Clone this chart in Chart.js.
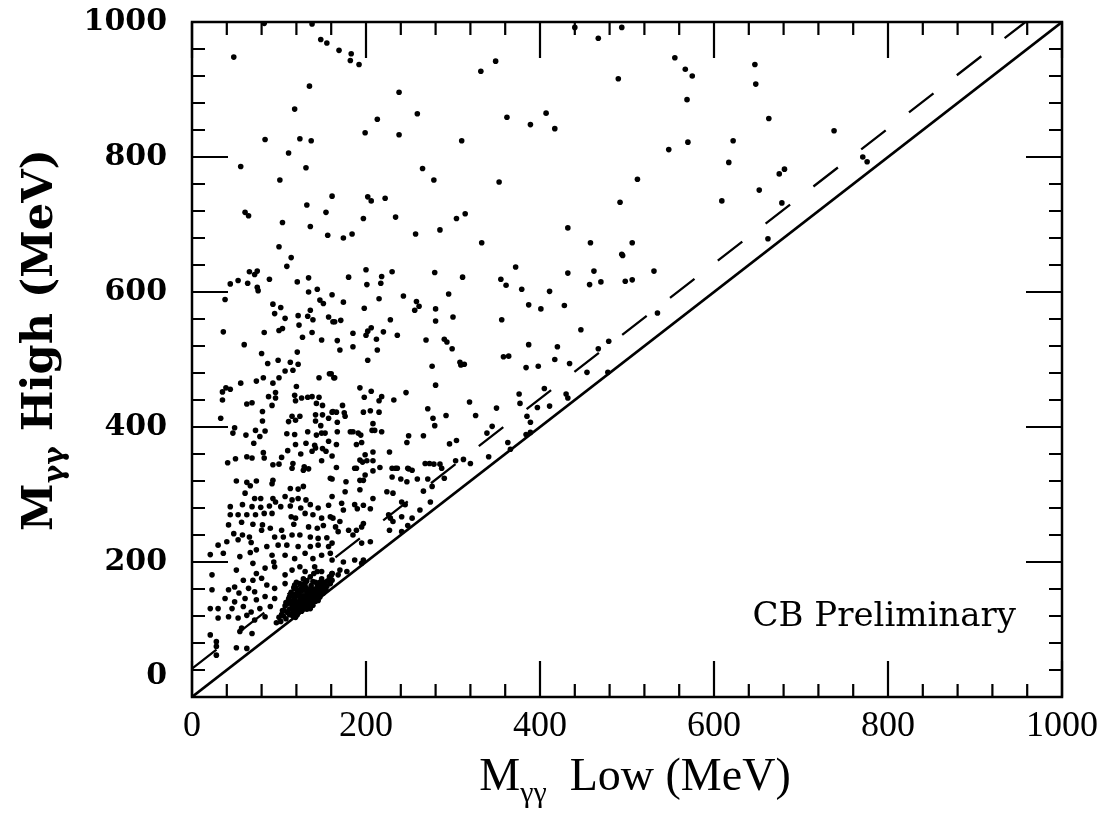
<!DOCTYPE html>
<html>
<head>
<meta charset="utf-8">
<script src="https://cdn.jsdelivr.net/npm/chart.js@4.4.1/dist/chart.umd.min.js"></script>
<style>
  html, body { margin: 0; padding: 0; background: #fff; }
  #c { display: block; }
</style>
</head>
<body>
<canvas id="c" width="1107" height="821"></canvas>
<script>
// ---------- DATA (MeV): [M_low, M_high] ----------
const eventsUpper = [
  [138,997],[83,998],[148,974],[155,969],[169,958],[183,953],[182,943],[192,937],[48,948],[135,905],
  [238,896],[118,871],[213,856],[259,864],[199,836],[238,833],[84,826],[124,827],[137,824],[111,806],
  [56,786],[131,784],[265,783],[101,766],[161,742],[202,741],[206,735],[222,739],[132,729],[61,718],
  [65,713],[154,718],[197,709],[234,711],[104,703],[136,697],[156,684],[174,680],[184,686],[257,686],
  [100,667],
  [440,992],[467,976],[494,992],[349,942],[332,927],[555,947],[567,930],[575,920],[490,916],[569,885],
  [362,859],[407,865],[389,848],[417,842],[310,824],[570,822],[548,811],[278,766],[353,763],[512,767],
  [492,733],[314,716],[304,709],[285,692],[432,695],[333,673],[458,673],[506,673],[494,656],
  [647,937],[648,908],[663,857],[738,839],[622,824],[617,792],[681,782],[675,775],[771,800],[776,793],
  [652,751],[609,735],[678,732],[662,679]
];
const eventsMiddle = [
  [495,654],[372,637],[355,619],[361,610],[432,628],[462,631],[531,631],[457,611],[470,615],[498,616],
  [506,618],[379,604],[411,601],[387,581],[401,575],[428,580],[356,559],[535,569],[447,544],[479,527],
  [387,522],[420,519],[467,516],[358,504],[364,505],[417,500],[434,494],[384,488],[398,490],[454,481],
  [478,481],[405,457],[376,449],[430,449],[432,443],[377,435],[397,429],[411,431],[350,428],[385,416],
  [389,407],[384,389],[389,392],[363,377],[366,367],
  [180,622],[200,633],[218,623],[217,613],[230,630],[201,611],[279,629],[311,622],[174,585],[215,590],
  [243,594],[295,597],[198,576],[258,586],[261,579],[256,573],[280,575],[164,556],[171,558],[228,559],
  [280,557],[300,563],[185,539],[200,536],[202,542],[206,547],[220,541],[236,536],[212,530],[167,528],
  [185,519],[213,514],[170,514],[269,529],[290,530],[293,526],[299,516],[202,499],[276,490],[308,496],
  [309,492],[313,493],[160,479],[164,473],[280,462],[193,458],[206,453],[198,444],[218,445],[215,439],
  [232,440],[246,451],[173,432],[162,423],[166,422],[175,421],[176,416],[197,422],[205,424],[215,422],
  [167,407],[208,405],[271,427],[277,413],[279,402],[292,417],[319,437],[326,417],[345,401],[339,391],
  [167,393],[182,393],[185,393],[191,391],[194,388],[207,395],[210,395],[218,393],[249,387],[266,387],
  [247,377],[166,374],[189,374],[195,377],[304,380],[296,375],[227,363],[199,359],[208,363],[193,351],
  [196,348],[201,350],[208,350],[166,340],[187,339],[216,340],[234,339],[248,339],[268,346],[273,346],
  [278,345],[285,345],[303,350],[312,352],[320,346],[341,356]
];
const eventsLeft = [
  [114,651],[109,638],[66,630],[75,631],[72,626],[44,612],[53,617],[64,613],[89,619],[75,607],
  [76,602],[121,615],[134,621],[134,600],[144,604],[161,596],[38,589],[147,588],[151,583],[93,582],
  [102,577],[95,568],[136,573],[107,561],[122,565],[133,564],[139,559],[157,563],[162,556],[123,551],
  [104,546],[100,543],[36,541],[83,540],[138,540],[127,533],[149,529],[60,522],[121,511],[80,509],
  [99,499],[113,496],[122,493],[87,494],[107,483],[116,484],[158,479],[146,473],[163,473],[100,473],
  [82,473],[74,468],[56,465],[93,465],[39,458],[44,456],[35,452],[120,460],[96,451],[88,445],
  [96,443],[118,447],[126,443],[133,444],[138,445],[146,444],[119,439],[35,440],[63,434],[69,436],
  [92,432],[143,435],[150,432],[81,423],[33,413],[115,416],[124,416],[142,418],[150,418],[161,422],
  [81,409],[111,408],[119,410],[142,409],[157,413],[148,402],[49,399],[47,391],[62,388],[73,395],
  [84,394],[78,386],[109,390],[118,389],[133,393],[143,388],[149,391],[153,391],[71,376],[119,374],
  [131,376],[141,373],[157,379],[110,365],[125,360],[138,364],[142,369],[150,368],[154,364],[41,347],
  [50,353],[63,356],[69,354],[82,362],[83,354],[103,355],[93,344],[100,345],[116,346],[129,341],
  [149,350],[161,357]
];
const eventsLower = [
  [51,320],[63,318],[74,320],[93,321],[92,316],[67,313],[113,309],[122,308],[128,312],[134,338],
  [128,336],[115,339],[159,324],[61,302],[72,294],[79,294],[93,294],[96,289],[107,297],[115,292],
  [122,294],[131,292],[44,282],[58,285],[69,282],[79,281],[89,283],[102,282],[113,283],[125,280],
  [136,285],[145,280],[157,284],[44,270],[53,270],[63,270],[73,270],[83,272],[92,272],[114,267],
  [119,265],[130,272],[139,270],[149,265],[159,267],[42,255],[57,259],[70,256],[81,255],[90,250],
  [103,247],[117,256],[134,252],[144,250],[151,254],[48,242],[58,240],[66,237],[80,247],[95,237],
  [105,237],[115,240],[124,240],[136,237],[145,235],[155,236],[30,225],[40,230],[53,233],[68,229],
  [74,218],[86,223],[99,225],[109,225],[122,223],[136,223],[145,225],[157,223],[21,211],[36,213],
  [55,208],[67,214],[92,210],[94,200],[107,210],[118,205],[130,213],[139,205],[149,210],[161,203],
  [51,188],[70,198],[74,183],[84,191],[95,193],[107,181],[115,188],[124,193],[130,186],[141,193],
  [149,186],[161,183],[23,181],[59,173],[70,173],[80,176],[42,159],[49,163],[54,154],[65,161],
  [72,156],[23,159],[86,166],[95,161],[107,168],[118,166],[130,168],[139,171],[153,166],[161,173],
  [38,146],[49,141],[61,146],[74,144],[84,149],[95,146],[30,131],[21,131],[46,131],[59,134],
  [68,126],[78,131],[90,134],[30,117],[42,119],[53,117],[63,121],[72,114],[84,119],[57,102],
  [55,97],[69,94],[21,92],[28,82],[28,75],[28,62],[51,73],[63,72],
  [189,339],[208,335],[230,339],[236,339],[249,338],[253,336],[161,323],[177,319],[193,321],[197,321],
  [199,329],[230,326],[240,323],[247,319],[259,323],[271,323],[287,339],[290,324],[176,304],[193,307],
  [208,294],[224,304],[231,302],[266,305],[276,312],[161,297],[172,287],[174,277],[187,285],[190,279],
  [197,284],[205,279],[241,289],[245,285],[274,289],[162,265],[170,260],[165,252],[168,245],[180,247],
  [185,240],[189,247],[195,252],[197,257],[205,230],[195,228],[226,270],[228,265],[231,260],[241,267],
  [253,265],[262,277],[227,247],[241,245],[248,254],[161,228],[159,213],[174,200],[187,203],[195,198],
  [197,203],[161,183],[170,188],[168,181],[178,186],[159,168]
];
const eventsPeak = [
  [112,130],[115,135],[118,128],[120,140],[122,133],[124,145],[125,128],[126,138],[128,132],[128,150],
  [130,136],[130,142],[131,133],[132,155],[133,138],[134,133],[135,145],[135,140],[136,131],[137,150],
  [138,136],[138,143],[139,141],[140,143],[140,155],[141,147],[142,148],[143,144],[144,147],[145,150],
  [145,160],[146,150],[147,148],[148,152],[150,156],[150,165],[152,160],[153,170],[155,164],[118,145],
  [120,125],[122,150],[125,160],[127,143],[129,131],[132,130],[134,150],[136,160],[138,140],[141,144],
  [143,158],[144,166],[147,170],[149,175],[110,125],[113,140],[116,150],[119,118],[121,122],[123,126],
  [126,127],[127,130],[130,132],[133,135],[137,139],[139,148],[142,152],[146,155],[148,162],[151,154],
  [154,158],[156,172],[158,178],[160,180],[105,120],[108,116],[102,112],[100,118],[97,110],[104,128],
  [107,135],[111,145],[114,155],[117,162],[120,170],[124,168],[128,175],[132,172],[136,178],[140,183],
  [144,186],
  [110,138],[112,148],[115,142],[117,132],[119,152],[121,158],[123,140],[124,135],[126,150],[127,158],
  [129,145],[131,150],[131,162],[133,145],[134,158],[136,145],[137,165],[139,155],[141,160],[142,170],
  [143,151],[145,143],[146,165],[148,158],[149,168],[151,162],[116,126],[118,136],[122,128],[125,133],
  [129,138],[132,141],[135,136],[139,136],[142,142],[144,155],[147,152],[150,160],[153,162],[119,160],
  [113,150],[108,140],[106,128],[103,122],[112,122],[116,120],[137,155],[140,150],[127,165],[123,155]
];
// Kinematic boundary (M_high = M_low) and cut line
const diagonalLine = [[0,0],[1000,1000]];
const cutLine = [[0,42],[958,1000]];
// Axis tick values
const xTickValues = [0,200,400,600,800,1000];
const yTickValues = [0,200,400,600,800,1000];
const minorStep = 40;
const xTitle = ['M', 'γγ', '  Low (MeV)'];
const yTitle = ['M', 'γγ', ' High (MeV)'];
const annotation = 'CB Preliminary';

// ---------- CHART ----------
const toXY = arr => arr.map(([x, y]) => ({ x, y }));
const allEvents = [].concat(eventsUpper, eventsMiddle, eventsLeft, eventsLower, eventsPeak);

const framePlugin = {
  id: 'frame',
  afterDraw(chart) {
    const { ctx, chartArea: a, scales } = chart;
    const xs = scales.x, ys = scales.y;
    ctx.save();
    ctx.strokeStyle = '#000';
    ctx.lineWidth = 2.5;
    ctx.strokeRect(a.left, a.top, a.right - a.left, a.bottom - a.top);
    ctx.lineWidth = 2.2;
    ctx.beginPath();
    for (let v = 0; v <= 1000; v += minorStep) {
      const major = xTickValues.includes(v);
      const len = major ? 36 : 13;
      const px = xs.getPixelForValue(v);
      ctx.moveTo(px, a.bottom); ctx.lineTo(px, a.bottom - len);
      ctx.moveTo(px, a.top); ctx.lineTo(px, a.top + len);
      const majorY = yTickValues.includes(v);
      const leny = majorY ? 36 : 13;
      const py = ys.getPixelForValue(v);
      ctx.moveTo(a.left, py); ctx.lineTo(a.left + leny, py);
      ctx.moveTo(a.right, py); ctx.lineTo(a.right - leny, py);
    }
    ctx.stroke();

    ctx.fillStyle = '#000';
    // y-axis "0" label, raised above the x axis like the original
    ctx.font = 'bold 30px "DejaVu Serif"';
    ctx.textAlign = 'right';
    ctx.textBaseline = 'middle';
    ctx.fillText(String(yTickValues[0]), a.left - 25, ys.getPixelForValue(0) - 21);
    // x title
    drawSubTitle(ctx, xTitle, 'Liberation Serif', 46, 30, 635, 790, false, 0);
    // y title (rotated)
    ctx.save();
    ctx.translate(52, 340);
    ctx.rotate(-Math.PI / 2);
    drawSubTitle(ctx, yTitle, 'DejaVu Serif', 43, 28, 0, 0, true, 0);
    ctx.restore();
    // annotation
    ctx.font = '34px "DejaVu Serif"';
    ctx.textAlign = 'right';
    ctx.textBaseline = 'alphabetic';
    ctx.fillText(annotation, 1016, 626);
    ctx.restore();
  }
};

function drawSubTitle(ctx, parts, family, size, subSize, cx, baseline, bold, gap) {
  const w = bold ? 'bold ' : '';
  const f1 = w + size + 'px "' + family + '"';
  const f2 = w + subSize + 'px "' + family + '"';
  ctx.font = f1; const w0 = ctx.measureText(parts[0]).width;
  const w2 = ctx.measureText(parts[2]).width;
  ctx.font = f2; const w1 = ctx.measureText(parts[1]).width;
  const total = w0 + w1 + gap + w2;
  let x = cx - total / 2;
  ctx.textAlign = 'left';
  ctx.textBaseline = 'alphabetic';
  ctx.font = f1; ctx.fillText(parts[0], x, baseline); x += w0;
  ctx.font = f2; ctx.fillText(parts[1], x, baseline + size * 0.25); x += w1 + gap;
  ctx.font = f1; ctx.fillText(parts[2], x, baseline);
}

new Chart(document.getElementById('c'), {
  type: 'scatter',
  data: {
    datasets: [
      {
        label: 'Events',
        data: toXY(allEvents),
        pointRadius: 2.8,
        pointBackgroundColor: '#000',
        pointBorderColor: '#000',
        pointBorderWidth: 0,
        showLine: false
      },
      {
        label: 'M_high = M_low',
        data: toXY(diagonalLine),
        showLine: true,
        borderColor: '#000',
        borderWidth: 2.6,
        pointRadius: 0,
        fill: false
      },
      {
        label: 'Cut',
        data: toXY(cutLine),
        showLine: true,
        borderColor: '#000',
        borderWidth: 2.3,
        borderDash: [31, 29.5],
        pointRadius: 0,
        fill: false
      }
    ]
  },
  options: {
    responsive: false,
    animation: false,
    events: [],
    layout: { padding: { left: 0, right: 45, top: 22, bottom: 0 } },
    plugins: { legend: { display: false }, tooltip: { enabled: false } },
    scales: {
      x: {
        type: 'linear', min: 0, max: 1000,
        afterFit(s) { s.height = 124; s.paddingLeft = 0; s.paddingRight = 0; },
        afterBuildTicks(s) { s.ticks = xTickValues.map(v => ({ value: v })); },
        ticks: { autoSkip: false, maxRotation: 0, color: '#000', padding: 8,
                 callback: v => String(v),
                 font: { family: 'Liberation Serif', size: 36 } },
        grid: { display: false, drawTicks: false },
        border: { display: false }
      },
      y: {
        type: 'linear', min: 0, max: 1000,
        afterFit(s) { s.width = 192; s.paddingTop = 0; s.paddingBottom = 0; },
        afterBuildTicks(s) { s.ticks = yTickValues.map(v => ({ value: v })); },
        ticks: { autoSkip: false, color: '#000', padding: 25,
                 callback: v => (v === 0 ? '' : String(v)),
                 font: { family: 'DejaVu Serif', size: 30, weight: 'bold' } },
        grid: { display: false, drawTicks: false },
        border: { display: false }
      }
    }
  },
  plugins: [framePlugin]
});
</script>
</body>
</html>
